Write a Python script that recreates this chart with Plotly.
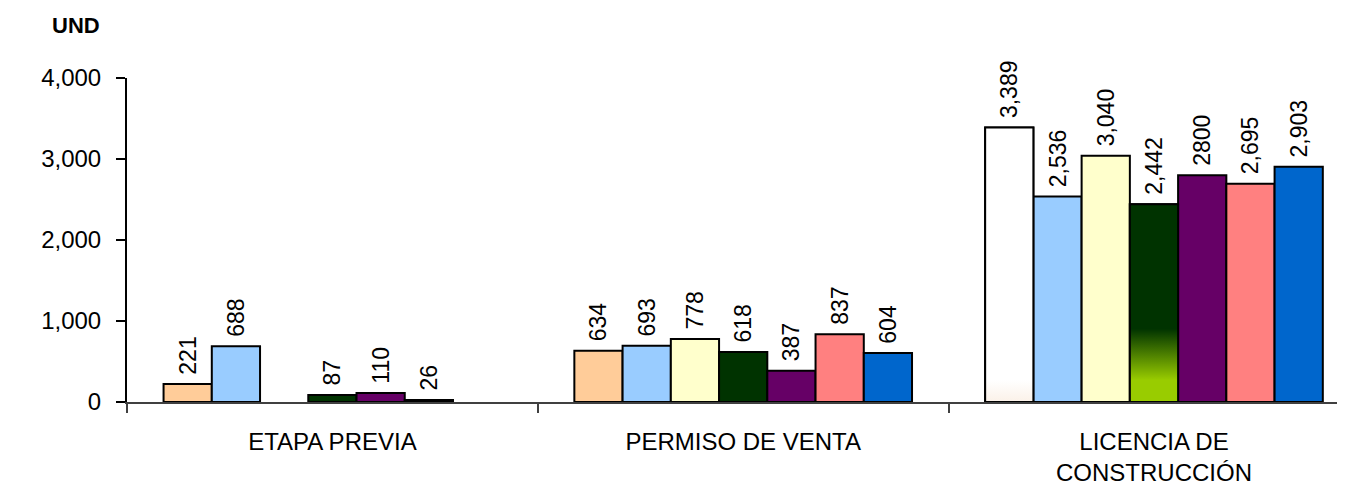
import plotly.graph_objects as go

# Data -------------------------------------------------------------
categories = ["ETAPA PREVIA", "PERMISO DE VENTA", "LICENCIA DE<br>CONSTRUCCIÓN"]

serie_1 = [221, 634, 3389]
serie_2 = [688, 693, 2536]
serie_3 = [None, 778, 3040]
serie_4 = [87, 618, 2442]
serie_5 = [110, 387, 2800]
serie_6 = [26, 837, 2695]
serie_7 = [None, 604, 2903]

labels_1 = ["221", "634", "3,389"]
labels_2 = ["688", "693", "2,536"]
labels_3 = ["", "778", "3,040"]
labels_4 = ["87", "618", "2,442"]
labels_5 = ["110", "387", "2800"]
labels_6 = ["26", "837", "2,695"]
labels_7 = ["", "604", "2,903"]

y_ticks = [0, 1000, 2000, 3000, 4000]

series = [serie_1, serie_2, serie_3, serie_4, serie_5, serie_6, serie_7]
labels = [labels_1, labels_2, labels_3, labels_4, labels_5, labels_6, labels_7]
colors = [
    ["#FFCC99", "#FFCC99", "#FFFFFF"],
    "#99CCFF",
    "#FFFFCC",
    "#003300",
    "#660066",
    "#FF8080",
    "#0066CC",
]

# bars with a gradient fill in the original: (series index, category index, colorscale)
gradients = [
    (0, 2, [[0, "#FBF1E8"], [0.08, "#FFFFFF"], [1, "#FFFFFF"]]),
    (3, 2, [[0, "#99CC00"], [0.11, "#99CC00"], [0.37, "#003300"], [1, "#003300"]]),
]

FONT = "Liberation Sans, Arial, sans-serif"
BARGAP = 0.178
X_RANGE = [-0.5, 2.465]

fig = go.Figure()

for k, (vals, txt, col) in enumerate(zip(series, labels, colors)):
    fig.add_trace(
        go.Bar(
            x=categories,
            y=vals,
            name=f"Serie {k + 1}",
            # a no-break space keeps the label a little off the bar top
            text=["\u00a0" + t if t else t for t in txt],
            textposition="outside",
            textangle=-90,
            textfont=dict(family=FONT, size=23, color="black"),
            constraintext="none",
            cliponaxis=False,
            marker=dict(color=col, line=dict(color="black", width=2)),
        )
    )

# gradient overlays, placed on the grouped bar slots ----------------
n = len(series)
group_w = 1 - BARGAP
bar_w = group_w / n
for k, i, cscale in gradients:
    v = series[k][i]
    x0 = i - group_w / 2 + k * bar_w
    x1 = x0 + bar_w
    fig.add_trace(
        go.Scatter(
            x=[x0, x0, x1, x1, x0],
            y=[0, v, v, 0, 0],
            xaxis="x2",
            mode="lines",
            fill="toself",
            fillgradient=dict(type="vertical", colorscale=cscale),
            line=dict(color="black", width=2),
            hoverinfo="skip",
            showlegend=False,
        )
    )

# the page body has an 8px margin, so the figure is trimmed by that much
fig.update_layout(
    width=1337,
    height=478,
    margin=dict(l=119, r=0, t=70, b=76),
    paper_bgcolor="white",
    plot_bgcolor="white",
    barmode="group",
    bargap=BARGAP,
    bargroupgap=0,
    showlegend=False,
    font=dict(family=FONT, size=24, color="black"),
    xaxis=dict(
        type="category",
        range=X_RANGE,
        showline=True,
        linecolor="#404040",
        linewidth=2,
        ticks="outside",
        tickson="boundaries",
        ticklen=9,
        tickwidth=2,
        tickcolor="#404040",
        showgrid=False,
        ticklabelstandoff=17,
        tickfont=dict(family=FONT, size=24),
    ),
    xaxis2=dict(
        overlaying="x",
        range=X_RANGE,
        visible=False,
        anchor="y",
    ),
    yaxis=dict(
        range=[0, 4000],
        tickvals=y_ticks,
        tickformat=",",
        showline=True,
        linecolor="black",
        linewidth=2,
        ticks="outside",
        ticklen=9,
        tickwidth=2,
        tickcolor="black",
        showgrid=False,
        zeroline=False,
        ticklabelstandoff=10,
        tickfont=dict(family=FONT, size=24),
    ),
    annotations=[
        dict(
            text="<b>UND</b>",
            xref="paper",
            yref="paper",
            x=-0.042,
            y=1.163,
            xanchor="center",
            yanchor="middle",
            showarrow=False,
            font=dict(family=FONT, size=22, color="black"),
        )
    ],
)

fig.write_html("out.html")
